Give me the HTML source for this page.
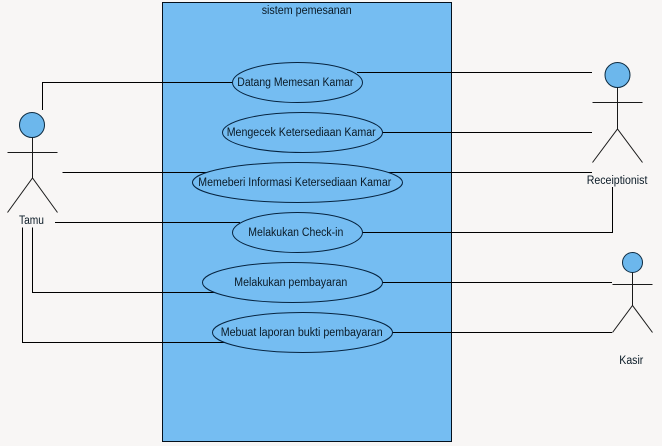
<!DOCTYPE html>
<html>
<head>
<meta charset="utf-8">
<style>
html,body{margin:0;padding:0;background:#f8f6f5;width:662px;height:446px;overflow:hidden}
svg{display:block}
text{font-family:"Liberation Sans",sans-serif;font-size:11.5px;fill:#0a1a26}
.l{fill:none;stroke:#000;stroke-width:1}
.e{fill:#75bdf2;stroke:#06233f;stroke-width:1}
.a{fill:none;stroke:#1a1a1a;stroke-width:1}
.h{fill:#6cb7ec;stroke:#0c2a40;stroke-width:1}
</style>
</head>
<body>
<svg width="662" height="446" viewBox="0 0 662 446" xmlns="http://www.w3.org/2000/svg">
<rect x="0" y="0" width="662" height="446" fill="#f8f6f5"/>
<rect x="162.5" y="2.5" width="289" height="439" fill="#75bdf2" stroke="#04101c" stroke-width="1"/>
<path class="l" d="M42.5 110V82.5H233"/>
<path class="l" d="M62.5 172.5H592"/>
<path class="l" d="M55 222.5H240"/>
<path class="l" d="M32.5 227.5V292.5H216"/>
<path class="l" d="M22.5 227.5V342.5H226"/>
<path class="l" d="M357 72.5H592"/>
<path class="l" d="M382 132.5H592"/>
<path class="l" d="M362 232.5H612.5V187"/>
<path class="l" d="M382 282.5H612"/>
<path class="l" d="M392 332.5H612"/>
<ellipse class="e" cx="297.5" cy="82.5" rx="65" ry="20"/>
<ellipse class="e" cx="302.5" cy="132.5" rx="80" ry="20"/>
<ellipse class="e" cx="297.5" cy="182.5" rx="105" ry="20"/>
<ellipse class="e" cx="297.5" cy="232.5" rx="65" ry="20"/>
<ellipse class="e" cx="292.5" cy="282.5" rx="90" ry="20"/>
<ellipse class="e" cx="302.5" cy="332.5" rx="90" ry="20"/>
<circle class="h" cx="32" cy="125" r="12.5"/>
<path class="a" d="M32.5 137.5V178M7.5 152.5H57.5M7.5 212.5L32.5 178L57.5 212.5"/>
<circle class="h" cx="617.5" cy="75" r="12.5"/>
<path class="a" d="M617.5 87.5V129M592.5 102.5H642.5M592.5 162.5L617.5 129L642.5 162.5"/>
<circle class="h" cx="632.5" cy="262.5" r="10"/>
<path class="a" d="M632.5 272.5V305.5M612.5 284.5H652.5M612.5 332.5L632.5 305.5L652.5 332.5"/>
<text x="261.7" y="14" textLength="90" lengthAdjust="spacingAndGlyphs">sistem pemesanan</text>
<text x="237.3" y="86" textLength="116" lengthAdjust="spacingAndGlyphs">Datang Memesan Kamar</text>
<text x="226.7" y="136" textLength="149" lengthAdjust="spacingAndGlyphs">Mengecek Ketersediaan Kamar</text>
<text x="198.3" y="186" textLength="193" lengthAdjust="spacingAndGlyphs">Memeberi Informasi Ketersediaan Kamar</text>
<text x="248.3" y="236" textLength="95" lengthAdjust="spacingAndGlyphs">Melakukan Check-in</text>
<text x="234.3" y="286" textLength="113" lengthAdjust="spacingAndGlyphs">Melakukan pembayaran</text>
<text x="220.7" y="336" textLength="162" lengthAdjust="spacingAndGlyphs">Mebuat laporan bukti pembayaran</text>
<text x="19" y="224" textLength="25" lengthAdjust="spacingAndGlyphs">Tamu</text>
<text x="586.7" y="184" textLength="60.7" lengthAdjust="spacingAndGlyphs">Receiptionist</text>
<text x="619.3" y="364" textLength="24" lengthAdjust="spacingAndGlyphs">Kasir</text>
</svg>
</body>
</html>
